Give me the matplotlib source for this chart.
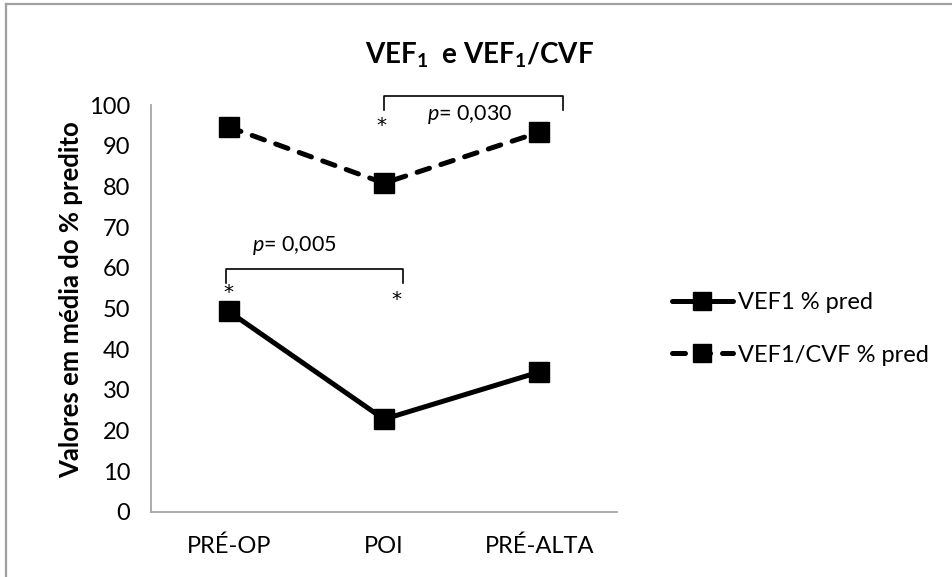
import numpy as np
import matplotlib
matplotlib.use("Agg")
import matplotlib.pyplot as plt
from matplotlib.lines import Line2D

plt.rcParams['font.family'] = ['Lato', 'DejaVu Sans']
plt.rcParams['mathtext.fontset'] = 'custom'
plt.rcParams['mathtext.rm'] = 'Lato'
plt.rcParams['mathtext.it'] = 'Lato:italic'
plt.rcParams['mathtext.bf'] = 'Lato:bold'

# data
categories = ["PRÉ-OP", "POI", "PRÉ-ALTA"]
vef1 = [49.3, 22.8, 34.4]
vef1_cvf = [94.6, 80.8, 93.3]
series_labels = ["VEF1 % pred", "VEF1/CVF % pred"]

# significance annotations (bracket x0, x1, top y, foot y, p text, text x, text y)
brackets = [
    (1.0, 2.15, 102.2, 98.8, "0,030", 1.28, 97.6),
    (-0.02, 1.12, 59.7, 56.3, "0,005", 0.15, 65.5),
]
stars = [(0.985, 95.0), (0.0, 54.0), (1.08, 52.2)]

W, H = 953, 577
fig = plt.figure(figsize=(W / 100, H / 100), dpi=100)
ax = fig.add_axes([151 / W, (H - 512) / H, (617 - 151) / W, (512 - 105) / H])

x = np.arange(len(categories))
ax.plot(x, vef1, color='black', lw=3.6, marker='s', markersize=14.5,
        solid_capstyle='round', label=series_labels[0])
ax.plot(x, vef1_cvf, color='black', lw=3.6, marker='s', markersize=14.5,
        dashes=(2.6, 2.4), dash_capstyle='round', label=series_labels[1])

ax.set_xlim(-0.5, len(categories) - 0.5)
ax.set_ylim(0, 100)
ax.set_yticks(np.arange(0, 101, 10))
ax.set_xticks(x)
ax.set_xticklabels(categories)
ax.tick_params(length=0, labelsize=17, colors='black')
ax.tick_params(axis='y', pad=15)
ax.tick_params(axis='x', pad=17)
for s in ['top', 'right']:
    ax.spines[s].set_visible(False)
for s in ['left', 'bottom']:
    ax.spines[s].set_color('#a6a6a6')
    ax.spines[s].set_linewidth(1.3)

fig.text(71 / W, 1 - 300 / H, "Valores em média do % predito", fontsize=18.5,
         fontweight='bold', rotation=90, ha='center', va='center')

fig.text(480 / W, 1 - 55 / H, r"VEF$_\mathbf{1}$  e VEF$_\mathbf{1}$/CVF",
         fontsize=20, fontweight='bold', ha='center', va='center')

for x0, x1, yt, yf, ptxt, tx, ty in brackets:
    ax.plot([x0, x0, x1, x1], [yf, yt, yt, yf], color='black', lw=1.2,
            clip_on=False)
    ax.text(tx, ty, r"$\mathit{p}$= " + ptxt, fontsize=15.5, va='center', ha='left')
for sx, sy in stars:
    ax.text(sx, sy, "*", fontsize=14.5, ha='center', va='center',
            family='DejaVu Sans', style='italic')

leg = fig.legend(loc='upper left', bbox_to_anchor=(660 / W, 1 - 280 / H),
                 frameon=False, fontsize=17, handlelength=2.6,
                 handletextpad=0.2, labelspacing=1.35, borderpad=0,
                 markerscale=0.85)

# chart frame
fig.add_artist(Line2D([6 / W, 6 / W], [0, 1 - 4 / H], color='#a0a0a0', lw=1.6))
fig.add_artist(Line2D([6 / W, 1], [1 - 4 / H, 1 - 4 / H], color='#a0a0a0', lw=1.6))

fig.savefig("out.png", dpi=100)
